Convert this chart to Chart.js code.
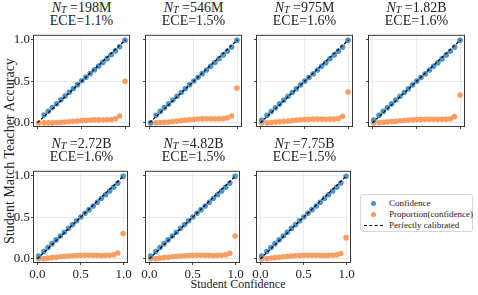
<!DOCTYPE html>
<html>
<head>
<meta charset="utf-8">
<script src="https://cdn.jsdelivr.net/npm/chart.js@4.4.1/dist/chart.umd.min.js"></script>
<style>
  html, body { margin: 0; padding: 0; background: #fff; }
  body { width: 478px; height: 295px; position: relative; overflow: hidden;
         font-family: "Liberation Serif", "DejaVu Serif", serif; color: #222; }
  canvas { position: absolute; }
  .title { position: absolute; width: 140px; height: 14px; text-align: center; font-size: 14px;
           line-height: 14px; white-space: nowrap; }
  .title sub { font-size: 10px; position: relative; top: 1px; vertical-align: baseline; line-height: 0; }
  .ylab { position: absolute; left: 10px; top: 151px; font-size: 14px; white-space: nowrap;
          transform: translate(-50%, -50%) rotate(-90deg); }
  .xlab { position: absolute; left: 238px; top: 284px; font-size: 12px; white-space: nowrap;
          transform: translate(-50%, -50%); }
  .legend { position: absolute; left: 360px; top: 194px; width: 113px; height: 38px;
            border: 1px solid #d6d6d6; border-radius: 3px; box-sizing: border-box; font-size: 9px; }
  .legend .row { position: absolute; left: 0; height: 11px; line-height: 11px; white-space: nowrap; }
  .legend .dot { position: absolute; width: 5px; height: 5px; border-radius: 50%; top: 3px; left: 10px; }
  .legend .dash { position: absolute; width: 19px; top: 5px; left: 3px; border-top: 1.2px dashed #000; }
  .legend .txt { position: absolute; left: 28px; top: 0; }
</style>
</head>
<body>
<div class="ylab">Student Match Teacher Accuracy</div>
<div class="xlab">Student Confidence</div>
<div class="legend">
  <div class="row" style="top:3px"><span class="dot" style="background:#4f94c8"></span><span class="txt">Confidence</span></div>
  <div class="row" style="top:14px"><span class="dot" style="background:#fa9d60"></span><span class="txt">Proportion(confidence)</span></div>
  <div class="row" style="top:25px"><span class="dash"></span><span class="txt">Perfectly calibrated</span></div>
</div>
<script>
var models = ['198M', '546M', '975M', '1.82B', '2.72B', '4.82B', '7.75B'];
var eces = ['1.1%', '1.5%', '1.6%', '1.6%', '1.6%', '1.5%', '1.5%'];
var ticks = [0, 0.5, 1];
var diagonal = [0, 1];

// mean confidence of each bin (x of every point)
var confidence = [0.015, 0.075, 0.123, 0.170, 0.218, 0.266, 0.313, 0.361, 0.408, 0.456, 0.504,
                  0.551, 0.599, 0.647, 0.694, 0.742, 0.789, 0.837, 0.884, 0.932, 0.993];

// blue: accuracy per bin
var acc198M = [null, 0.095, 0.14, 0.185, 0.23, 0.278, 0.322, 0.368, 0.414, 0.46, 0.506, 0.55, 0.594, 0.638, 0.683, 0.728, 0.773, 0.82, 0.866, 0.915, 0.995];
var acc546M = [0.0, 0.09, 0.138, 0.183, 0.228, 0.275, 0.32, 0.366, 0.412, 0.458, 0.503, 0.548, 0.592, 0.636, 0.681, 0.726, 0.772, 0.818, 0.864, 0.912, 0.995];
var acc975M = [0.03, 0.09, 0.137, 0.182, 0.228, 0.274, 0.32, 0.366, 0.411, 0.457, 0.502, 0.547, 0.591, 0.635, 0.68, 0.725, 0.771, 0.817, 0.863, 0.912, 0.995];
var acc182B = [0.035, 0.09, 0.138, 0.183, 0.229, 0.275, 0.32, 0.366, 0.411, 0.457, 0.502, 0.547, 0.591, 0.635, 0.68, 0.725, 0.77, 0.816, 0.862, 0.912, 0.995];
var acc272B = [0.035, 0.088, 0.137, 0.183, 0.229, 0.275, 0.321, 0.367, 0.412, 0.458, 0.503, 0.548, 0.592, 0.636, 0.681, 0.726, 0.771, 0.817, 0.862, 0.912, 0.995];
var acc482B = [0.035, 0.088, 0.137, 0.183, 0.229, 0.275, 0.321, 0.367, 0.412, 0.458, 0.503, 0.548, 0.592, 0.636, 0.681, 0.726, 0.771, 0.817, 0.862, 0.912, 0.995];
var acc775B = [0.035, 0.088, 0.137, 0.183, 0.229, 0.275, 0.321, 0.367, 0.412, 0.458, 0.503, 0.548, 0.592, 0.636, 0.681, 0.726, 0.771, 0.817, 0.862, 0.912, 0.995];

// orange: proportion of samples per bin
var prop198M = [0.0, 0.0, 0.0, 0.0, 0.003, 0.006, 0.01, 0.014, 0.018, 0.023, 0.028, 0.032, 0.035, 0.036, 0.036, 0.036, 0.037, 0.041, 0.05, 0.082, 0.5];
var prop546M = [0.0, 0.0, 0.003, 0.007, 0.011, 0.016, 0.021, 0.027, 0.033, 0.038, 0.042, 0.046, 0.049, 0.05, 0.049, 0.049, 0.05, 0.053, 0.06, 0.083, 0.42];
var prop975M = [0.0, 0.002, 0.005, 0.009, 0.013, 0.018, 0.023, 0.028, 0.033, 0.037, 0.04, 0.043, 0.045, 0.046, 0.045, 0.044, 0.045, 0.047, 0.053, 0.078, 0.37];
var prop182B = [0.0, 0.004, 0.008, 0.012, 0.016, 0.02, 0.025, 0.029, 0.033, 0.036, 0.039, 0.041, 0.043, 0.044, 0.043, 0.042, 0.043, 0.045, 0.05, 0.075, 0.335];
var prop272B = [0.0, 0.005, 0.01, 0.015, 0.02, 0.025, 0.03, 0.034, 0.037, 0.04, 0.042, 0.043, 0.044, 0.043, 0.042, 0.041, 0.042, 0.044, 0.05, 0.07, 0.305];
var prop482B = [0.0, 0.005, 0.01, 0.015, 0.02, 0.025, 0.03, 0.034, 0.037, 0.04, 0.042, 0.043, 0.044, 0.043, 0.042, 0.041, 0.042, 0.044, 0.05, 0.068, 0.275];
var prop775B = [0.0, 0.005, 0.01, 0.015, 0.02, 0.025, 0.03, 0.034, 0.037, 0.04, 0.042, 0.043, 0.044, 0.043, 0.042, 0.041, 0.042, 0.044, 0.05, 0.065, 0.255];

var accuracy = [acc198M, acc546M, acc975M, acc182B, acc272B, acc482B, acc775B];
var proportion = [prop198M, prop546M, prop975M, prop182B, prop272B, prop482B, prop775B];

// frame position of each panel's axes box
var lefts = [33, 145, 256, 368, 33, 145, 256];
var tops = [29, 29, 29, 29, 165, 165, 165];
var boxW = 97, boxH = 98, padL = 30, padB = 22, padT = 3, padR = 4;

var blue = '#4f94c8', orange = '#fa9d60';
var tickFont = { family: 'Liberation Serif', size: 13 };

var framePlugin = {
  id: 'frame',
  afterDatasetsDraw: function (chart) {
    var a = chart.chartArea, ctx = chart.ctx;
    ctx.save();
    ctx.strokeStyle = '#3a3a3a';
    ctx.lineWidth = 1;
    ctx.strokeRect(a.left + 0.5, a.top + 0.5, a.right - a.left - 1, a.bottom - a.top - 1);
    ctx.restore();
  }
};

function toPoints(ys) {
  return ys.map(function (y, i) { return { x: confidence[i], y: y }; });
}

function addTitleLine(i, html, dy) {
  var el = document.createElement('div');
  el.className = 'title';
  el.style.left = (lefts[i] + boxW / 2 - 70) + 'px';
  el.style.top = (tops[i] + dy) + 'px';
  el.innerHTML = html;
  document.body.appendChild(el);
}

function makePanel(i) {
  var showX = i >= 4;
  var showY = i === 0 || i === 4;

  addTitleLine(i, '<i>N</i><sub><i>T</i></sub> =' + models[i], -28.5);
  addTitleLine(i, 'ECE=' + eces[i], -15);

  var canvas = document.createElement('canvas');
  canvas.width = boxW + padL + padR;
  canvas.height = boxH + padT + padB;
  canvas.style.left = (lefts[i] - padL) + 'px';
  canvas.style.top = (tops[i] - padT) + 'px';
  document.body.appendChild(canvas);

  new Chart(canvas, {
    type: 'scatter',
    data: {
      datasets: [
        {
          type: 'line',
          label: 'Perfectly calibrated',
          data: diagonal.map(function (v) { return { x: v, y: v }; }),
          borderColor: '#000',
          borderWidth: 1.2,
          borderDash: [3, 2],
          pointRadius: 0,
          fill: false,
          order: 0
        },
        {
          label: 'Confidence',
          data: toPoints(accuracy[i]),
          backgroundColor: blue,
          borderWidth: 0,
          pointRadius: 2.8,
          order: 1
        },
        {
          label: 'Proportion(confidence)',
          data: toPoints(proportion[i]),
          backgroundColor: orange,
          borderWidth: 0,
          pointRadius: 2.8,
          order: 2
        }
      ]
    },
    options: {
      responsive: false,
      animation: false,
      events: [],
      layout: { padding: { top: padT, right: padR, left: 0, bottom: 0 } },
      plugins: { legend: { display: false }, tooltip: { enabled: false } },
      scales: {
        x: {
          type: 'linear', min: -0.05, max: 1.05,
          afterBuildTicks: function (s) { s.ticks = ticks.map(function (v) { return { value: v }; }); },
          afterFit: function (s) { s.height = padB; },
          grid: { color: '#e6e6e6', lineWidth: 0.8, tickLength: 2, tickColor: '#444', tickWidth: 1 },
          border: { display: false },
          ticks: {
            font: tickFont, color: '#222', padding: 2, maxRotation: 0,
            callback: function (v) { return showX ? v.toFixed(1) : ''; }
          }
        },
        y: {
          type: 'linear', min: -0.05, max: 1.06,
          afterBuildTicks: function (s) { s.ticks = ticks.map(function (v) { return { value: v }; }); },
          afterFit: function (s) { s.width = padL; },
          grid: { color: '#e6e6e6', lineWidth: 0.8, tickLength: 2, tickColor: '#444', tickWidth: 1 },
          border: { display: false },
          ticks: {
            font: tickFont, color: '#222', padding: 1,
            callback: function (v) { return showY ? v.toFixed(1) : ''; }
          }
        }
      }
    },
    plugins: [framePlugin]
  });
}

for (var i = 0; i < models.length; i++) {
  makePanel(i);
}
</script>
</body>
</html>
